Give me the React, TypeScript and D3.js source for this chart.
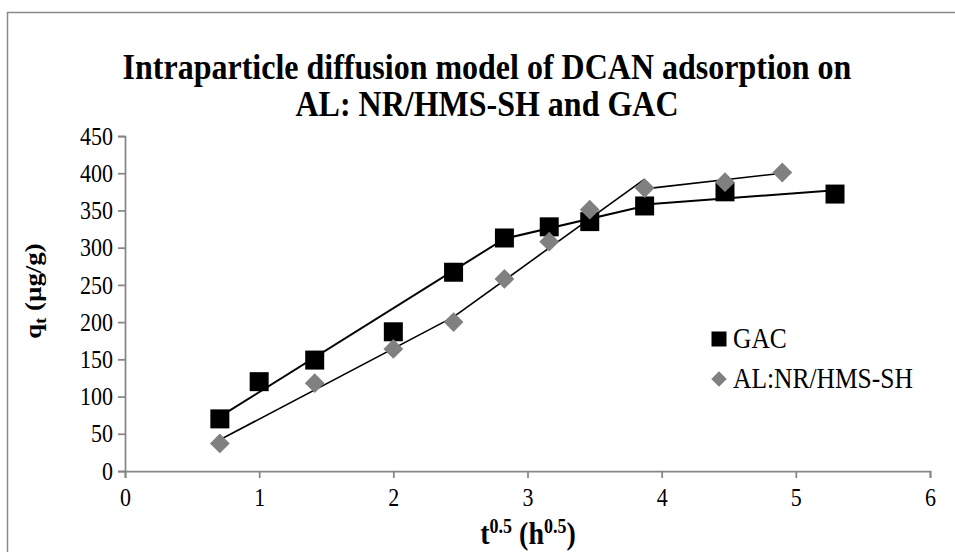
import React, { useEffect, useRef } from 'react';
import * as d3 from 'd3';

// sqrt(t) values and adsorbed amounts
const gacX = [0.707, 1, 1.414, 2, 2.449, 2.828, 3.162, 3.464, 3.873, 4.472, 5.292];
const gacY = [70, 120, 149, 187, 267, 313, 328, 335, 356, 375, 372];
const alX = [0.707, 1.414, 2, 2.449, 2.828, 3.162, 3.464, 3.873, 4.472, 4.899];
const alY = [37, 118, 164, 200, 258, 308, 351, 380, 388, 401];

// linear segments of the multi-stage fit: [x0, y0, x1, y1]
const gacFits = [[0.707, 73, 2.828, 312], [2.828, 312, 3.873, 356], [3.873, 358, 5.292, 377]];
const alFits = [[0.707, 42, 2.449, 207], [2.449, 207, 3.873, 392], [3.873, 379, 4.899, 400]];

const xTicks = [0, 1, 2, 3, 4, 5, 6];
const yTicks = [0, 50, 100, 150, 200, 250, 300, 350, 400, 450];

const titleLines = ['Intraparticle diffusion model of DCAN adsorption on', 'AL: NR/HMS-SH and GAC'];
const seriesNames = ['GAC', 'AL:NR/HMS-SH'];

const FONT = '"Liberation Serif", "Times New Roman", serif';
const AXIS = '#868686';
const K = 1.12; // the original picture is slightly stretched vertically, text included

const App = () => {
  const svgRef = useRef<SVGSVGElement>(null);

  useEffect(() => {
    const svg = d3.select(svgRef.current);
    svg.selectAll('*').remove();

    const x = d3.scaleLinear().domain([0, 6]).range([125, 930]);
    const y = d3.scaleLinear().domain([0, 450]).range([471, 136]);

    // text whose glyph middle sits at (cx, cy), stretched vertically by K
    const label = (cx: number, cy: number, size: number, anchor = 'middle', bold = false) =>
      svg.append('text')
        .attr('transform', `translate(${cx},${cy}) scale(1,${K})`)
        .attr('y', size * 0.33)
        .attr('text-anchor', anchor)
        .style('font-family', FONT)
        .style('font-weight', bold ? 'bold' : 'normal')
        .style('font-size', `${size}px`);

    // outer chart border
    svg.append('rect')
      .attr('x', 7.5).attr('y', 12.5)
      .attr('width', 1000).attr('height', 600)
      .attr('fill', 'none').attr('stroke', '#8a8a8a').attr('stroke-width', 1.5);

    // title
    titleLines.forEach((t, i) => {
      label(487, 67 + i * 37, 32, 'middle', true).text(t);
    });

    // axes
    const yAxis = svg.append('g')
      .attr('transform', `translate(${x(0)},0)`)
      .call(d3.axisLeft(y).tickValues(yTicks).tickSize(7).tickPadding(5).tickFormat(d3.format('d')));
    const xAxis = svg.append('g')
      .attr('transform', `translate(0,${y(0)})`)
      .call(d3.axisBottom(x).tickValues(xTicks).tickSize(7).tickPadding(12).tickFormat(d3.format('d')));

    [yAxis, xAxis].forEach(a => {
      a.select('.domain').attr('stroke', AXIS).attr('stroke-width', 1.75);
      a.selectAll('.tick line').attr('stroke', AXIS).attr('stroke-width', 1.75);
      a.selectAll('.tick text')
        .attr('fill', '#000')
        .style('font-family', FONT).style('font-size', '22px');
    });
    yAxis.selectAll('.tick text')
      .attr('dy', null).attr('y', 22 * 0.33)
      .attr('transform', `scale(1,${K})`);
    xAxis.selectAll('.tick text')
      .attr('dy', null).attr('y', 22 * 0.33)
      .attr('transform', `translate(0,27) scale(1,${K})`);

    // fit lines
    const line = d3.line<number[]>().x(d => x(d[0])).y(d => y(d[1]));
    gacFits.forEach(s => {
      svg.append('path')
        .attr('d', line([[s[0], s[1]], [s[2], s[3]]]))
        .attr('stroke', '#000').attr('stroke-width', 2).attr('fill', 'none');
    });
    alFits.forEach(s => {
      svg.append('path')
        .attr('d', line([[s[0], s[1]], [s[2], s[3]]]))
        .attr('stroke', '#000').attr('stroke-width', 1.6).attr('fill', 'none');
    });

    const square = d3.symbol().type(d3.symbolSquare).size(19 * 19);
    const diamond = d3.symbol().type(d3.symbolSquare).size(14 * 14);

    // markers
    svg.append('g').selectAll('path')
      .data(gacX.map((v, i) => [v, gacY[i]]))
      .enter().append('path')
      .attr('d', square())
      .attr('transform', d => `translate(${x(d[0])},${y(d[1])})`)
      .attr('fill', '#000');

    svg.append('g').selectAll('path')
      .data(alX.map((v, i) => [v, alY[i]]))
      .enter().append('path')
      .attr('d', diamond())
      .attr('transform', d => `translate(${x(d[0])},${y(d[1])}) rotate(45)`)
      .attr('fill', '#808080');

    // legend
    svg.append('path')
      .attr('d', d3.symbol().type(d3.symbolSquare).size(15 * 15)())
      .attr('transform', 'translate(719,339)').attr('fill', '#000');
    svg.append('path')
      .attr('d', d3.symbol().type(d3.symbolSquare).size(11 * 11)())
      .attr('transform', 'translate(719,379) rotate(45)').attr('fill', '#808080');
    seriesNames.forEach((n, i) => {
      label(733, 339 + i * 40, 25.5, 'start').text(n);
    });

    // y axis title (rotated, so the stretch runs along the text)
    const yt = svg.append('text')
      .attr('transform', `translate(33,291) rotate(-90) scale(${K},1)`)
      .attr('y', 24 * 0.33)
      .attr('text-anchor', 'middle')
      .style('font-family', FONT).style('font-weight', 'bold').style('font-size', '24px');
    yt.append('tspan').text('q');
    yt.append('tspan').attr('dy', 5).style('font-size', '16px').text('t');
    yt.append('tspan').attr('dy', -5).text(' (µg/g)');

    // x axis title
    const xt = label(528, 534, 28, 'middle', true);
    xt.append('tspan').text('t');
    xt.append('tspan').attr('dy', -10).style('font-size', '18px').text('0.5');
    xt.append('tspan').attr('dy', 10).text(' (h');
    xt.append('tspan').attr('dy', -10).style('font-size', '18px').text('0.5');
    xt.append('tspan').attr('dy', 10).text(')');
  }, []);

  return (
    <svg
      ref={svgRef}
      width={955}
      height={552}
      style={{ position: 'absolute', left: 0, top: 0, background: '#fff' }}
    />
  );
};

export default App;
